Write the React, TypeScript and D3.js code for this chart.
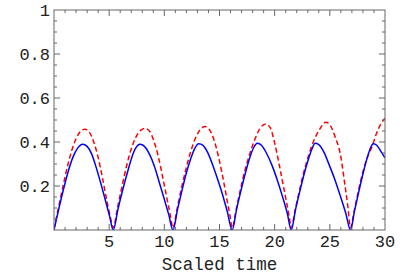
import * as d3 from "d3";

// blue solid curve, [scaled time, value]
const bluePoints: [number, number][] = [
  [0, 0], [0.43, 0.095], [0.86, 0.185], [1.28, 0.265], [1.71, 0.33], [2.14, 0.372], [2.6, 0.39],
  [3.0, 0.38], [3.42, 0.345], [3.85, 0.28], [4.28, 0.205], [4.71, 0.125], [5.03, 0.065], [5.37, 0],
  [5.8, 0.095], [6.24, 0.185], [6.67, 0.265], [7.05, 0.33], [7.4, 0.372], [7.8, 0.39],
  [8.2, 0.38], [8.65, 0.345], [9.1, 0.29], [9.55, 0.215], [10.0, 0.14], [10.4, 0.07], [10.78, 0],
  [11.2, 0.095], [11.6, 0.18], [12.0, 0.26], [12.4, 0.325], [12.75, 0.37], [13.12, 0.392],
  [13.5, 0.385], [13.9, 0.355], [14.35, 0.3], [14.8, 0.235], [15.25, 0.165], [15.7, 0.085], [16.15, 0],
  [16.55, 0.095], [16.95, 0.18], [17.35, 0.26], [17.75, 0.33], [18.1, 0.375], [18.43, 0.394],
  [18.8, 0.385], [19.25, 0.35], [19.75, 0.295], [20.25, 0.225], [20.75, 0.145], [21.15, 0.075], [21.5, 0],
  [21.9, 0.095], [22.3, 0.18], [22.7, 0.26], [23.05, 0.32], [23.38, 0.368], [23.66, 0.394],
  [24.0, 0.388], [24.45, 0.355], [24.95, 0.295], [25.45, 0.23], [25.95, 0.155], [26.45, 0.075], [26.87, 0],
  [27.25, 0.09], [27.65, 0.18], [28.05, 0.265], [28.4, 0.33], [28.7, 0.375], [28.95, 0.392],
  [29.25, 0.385], [29.6, 0.36], [30, 0.328],
];

// red dashed curve
const redPoints: [number, number][] = [
  [0, 0.005], [0.4, 0.1], [0.8, 0.195], [1.2, 0.285], [1.6, 0.36], [2.0, 0.415], [2.4, 0.448], [2.81, 0.458],
  [3.2, 0.445], [3.6, 0.4], [4.0, 0.33], [4.4, 0.235], [4.8, 0.13], [5.1, 0.06], [5.37, 0.01],
  [5.75, 0.1], [6.15, 0.195], [6.55, 0.285], [6.95, 0.36], [7.4, 0.42], [7.85, 0.453], [8.25, 0.462],
  [8.65, 0.45], [9.05, 0.405], [9.45, 0.335], [9.85, 0.24], [10.25, 0.14], [10.55, 0.065], [10.78, 0.01],
  [11.15, 0.095], [11.55, 0.19], [11.95, 0.275], [12.35, 0.35], [12.8, 0.415], [13.25, 0.456], [13.69, 0.47],
  [14.1, 0.455], [14.5, 0.41], [14.9, 0.335], [15.3, 0.24], [15.65, 0.145], [15.95, 0.065], [16.15, 0.01],
  [16.5, 0.09], [16.9, 0.185], [17.3, 0.27], [17.7, 0.34], [18.15, 0.405], [18.65, 0.46], [19.19, 0.482],
  [19.6, 0.465], [20.0, 0.395], [20.4, 0.3], [20.79, 0.2], [21.1, 0.12], [21.32, 0.06], [21.5, 0.01],
  [21.85, 0.09], [22.25, 0.18], [22.65, 0.265], [23.05, 0.335], [23.5, 0.4], [24.05, 0.455], [24.65, 0.49],
  [25.05, 0.475], [25.5, 0.42], [25.93, 0.35], [26.38, 0.2], [26.65, 0.1], [26.87, 0.01],
  [27.2, 0.085], [27.6, 0.18], [28.0, 0.265], [28.4, 0.33], [28.8, 0.375], [29.2, 0.435], [29.6, 0.48], [30, 0.508],
];

const xTickLabels = [5, 10, 15, 20, 25, 30];
const yTickLabels = [0.2, 0.4, 0.6, 0.8, 1];

const width = 414;
const height = 277;
const marginLeft = 54;
const marginRight = 29;
const marginTop = 10;
const marginBottom = 47;

const App = () => {
  const x = d3.scaleLinear().domain([0, 30]).range([marginLeft, width - marginRight]);
  const y = d3.scaleLinear().domain([0, 1]).range([height - marginBottom, marginTop]);

  const line = d3.line<[number, number]>()
    .x(d => x(d[0]))
    .y(d => y(d[1]))
    .curve(d3.curveMonotoneX);

  const xMinor = d3.range(1, 30);
  const yMinor = d3.range(0.05, 1, 0.05);
  const frame = "#666";
  const font = "'Liberation Mono', 'DejaVu Sans Mono', monospace";

  return (
    <svg width={width} height={height} style={{ position: "absolute", left: 0, top: 0, background: "#fff" }}>
      <defs>
        <clipPath id="plot">
          <rect x={marginLeft} y={marginTop} width={x(30) - x(0)} height={y(0) - y(1)} />
        </clipPath>
      </defs>
      <g clipPath="url(#plot)" fill="none" strokeWidth={1.5}>
        <path d={line(redPoints) ?? ""} stroke="#ff0000" strokeDasharray="5,3" />
        <path d={line(bluePoints) ?? ""} stroke="#0000ff" />
      </g>
      <g stroke={frame} strokeWidth={1}>
        {xMinor.map(t => {
          const major = t % 5 === 0;
          const len = major ? 6 : 3;
          return (
            <g key={"x" + t}>
              <line x1={x(t)} x2={x(t)} y1={y(0)} y2={y(0) - len} />
              <line x1={x(t)} x2={x(t)} y1={y(1)} y2={y(1) + len} />
            </g>
          );
        })}
        {yMinor.map((t, i) => {
          const major = (i + 1) % 4 === 0;
          const len = major ? 6 : 3;
          return (
            <g key={"y" + i}>
              <line x1={x(0)} x2={x(0) + len} y1={y(t)} y2={y(t)} />
              <line x1={x(30)} x2={x(30) - len} y1={y(t)} y2={y(t)} />
            </g>
          );
        })}
        <rect x={x(0)} y={y(1)} width={x(30) - x(0)} height={y(0) - y(1)} fill="none" />
      </g>
      <g fontFamily={font} fontSize={17} fill="#222">
        {xTickLabels.map(t => (
          <text key={t} x={x(t)} y={y(0) + 17} textAnchor="middle">{t}</text>
        ))}
        {yTickLabels.map(t => (
          <text key={t} x={x(0) - 4} y={y(t)} dy="0.35em" textAnchor="end">{t}</text>
        ))}
        <text x={(x(0) + x(30)) / 2} y={270} textAnchor="middle" fontSize={17.5}>Scaled time</text>
      </g>
    </svg>
  );
};

export default App;
